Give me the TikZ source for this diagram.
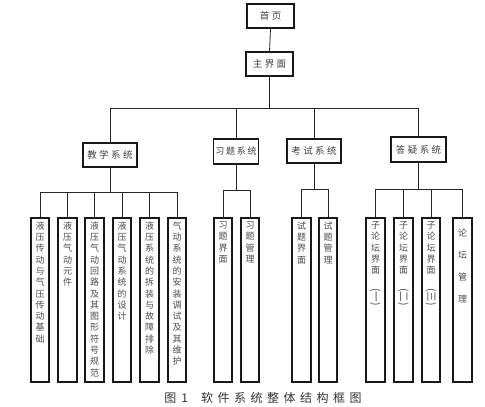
\documentclass[tikz,border=0pt]{standalone}
\usepackage{fontspec}
\usepackage{graphicx}
\newfontfamily\cjk{Noto Sans CJK SC}
\newlength\lsk
\setlength\lsk{2.5pt}
\def\ls#1{\lsfirst#1\relax}
\def\lsfirst#1{#1\lsrest}
\def\lsrest#1{\ifx#1\relax\else\kern\lsk #1\expandafter\lsrest\fi}
\newcommand\rp[1]{\rotatebox{-90}{\fontsize{10.5}{10.5}\selectfont(#1)}}
\tikzset{
  topbox/.style={draw=black!90, line width=1.1pt, inner sep=0pt,
    font=\cjk\fontsize{9.5}{11}\selectfont, text=black!75},
  leaf/.style={draw=black!90, line width=1.1pt, inner sep=0pt, minimum height=164pt},
  vtext/.style={anchor=north, align=center, inner sep=0pt, yshift=-4pt,
    font=\cjk\fontsize{9}{11.3}\selectfont, text=black!70},
  conn/.style={draw=black!85, line width=0.8pt},
}
\begin{document}
\begin{tikzpicture}[x=1pt,y=-1pt]
\path[use as bounding box, fill=white] (0,0) rectangle (485,407);

% top levels
\node[topbox, minimum width=47pt, minimum height=24pt] (sy) at (270.5,16) {\ls{首页}};
\node[topbox, minimum width=47pt, minimum height=24pt] (zjm) at (269.5,64) {\ls{主界面}};

\node[topbox, minimum width=54pt, minimum height=24pt] (jx) at (110,155) {\ls{教学系统}};
\node[topbox, minimum width=45pt, minimum height=25pt, font=\cjk\fontsize{9}{11}\selectfont] (xt) at (236,151.5) {\setlength\lsk{1.8pt}\ls{习题系统}};
\node[topbox, minimum width=54pt, minimum height=24pt] (ks) at (314,151) {\ls{考试系统}};
\node[topbox, minimum width=55pt, minimum height=25pt] (dy) at (418.5,149.5) {\ls{答疑系统}};

% leaves: teaching
\node[leaf, minimum width=18pt] (l1) at (40,300) {};
\node[leaf, minimum width=19pt] (l2) at (67.5,300) {};
\node[leaf, minimum width=19pt] (l3) at (94.5,300) {};
\node[leaf, minimum width=18pt] (l4) at (122,300) {};
\node[leaf, minimum width=19pt] (l5) at (149.5,300) {};
\node[leaf, minimum width=18pt] (l6) at (177,300) {};
\node[vtext] (t1) at (l1.north) {液\\压\\传\\动\\与\\气\\压\\传\\动\\基\\础};
\node[vtext] (t2) at (l2.north) {液\\压\\气\\动\\元\\件};
\node[vtext] (t3) at (l3.north) {液\\压\\气\\动\\回\\路\\及\\其\\图\\形\\符\\号\\规\\范};
\node[vtext] (t4) at (l4.north) {液\\压\\气\\动\\系\\统\\的\\设\\计};
\node[vtext] (t5) at (l5.north) {液\\压\\系\\统\\的\\拆\\装\\与\\故\\障\\排\\除};
\node[vtext] (t6) at (l6.north) {气\\动\\系\\统\\的\\安\\装\\调\\试\\及\\其\\维\\护};

% leaves: exercises
\node[leaf, minimum width=18pt] (x1) at (223,300) {};
\node[leaf, minimum width=18pt] (x2) at (250,300) {};
\node[vtext] (tx1) at (x1.north) {习\\题\\界\\面};
\node[vtext] (tx2) at (x2.north) {习\\题\\管\\理};

% leaves: exams
\node[leaf, minimum width=19pt] (s1) at (301.5,300) {};
\node[leaf, minimum width=18pt] (s2) at (328,300) {};
\node[vtext] (ts1) at (s1.north) {试\\题\\界\\面};
\node[vtext] (ts2) at (s2.north) {试\\题\\管\\理};

% leaves: Q&A
\node[leaf, minimum width=19pt] (d1) at (375.5,300) {};
\node[leaf, minimum width=19pt] (d2) at (403.5,300) {};
\node[leaf, minimum width=18pt] (d3) at (431,300) {};
\node[leaf, minimum width=19pt] (d4) at (462.5,300) {};
\node[vtext] (td1) at (d1.north) {子\\论\\坛\\界\\面\\[3pt]\rp{一}};
\node[vtext] (td2) at (d2.north) {子\\论\\坛\\界\\面\\[3pt]\rp{二}};
\node[vtext] (td3) at (d3.north) {子\\论\\坛\\界\\面\\[3pt]\rp{三}};
\node[vtext, font=\cjk\fontsize{9}{22}\selectfont, yshift=-7pt] (td4) at (d4.north) {论\\坛\\管\\理};

% connectors
\draw[conn] (sy.south) -- (zjm.north);
\coordinate (b0) at (0,108);
\foreach \c in {jx,xt,ks,dy} \draw[conn] (zjm.south) -- (zjm.south |- b0) -| (\c.north);
\coordinate (b1) at (0,192);
\foreach \c in {l1,l2,l3,l4,l5,l6} \draw[conn] (jx.south) -- (jx.south |- b1) -| (\c.north);
\coordinate (b2) at (0,190);
\foreach \c in {x1,x2} \draw[conn] (xt.south) -- (xt.south |- b2) -| (\c.north);
\coordinate (b3) at (0,189);
\foreach \c in {s1,s2} \draw[conn] (ks.south) -- (ks.south |- b3) -| (\c.north);
\coordinate (b4) at (0,189);
\foreach \c in {d1,d2,d3,d4} \draw[conn] (dy.south) -- (dy.south |- b4) -| (\c.north);

% caption
\node[inner sep=0pt, font=\cjk\fontsize{12}{14}\selectfont, text=black!80] (cap) at (263,398)
  {图\kern5pt 1\kern13pt 软\kern4.5pt 件\kern4.5pt 系\kern4.5pt 统\kern4.5pt 整\kern4.5pt 体\kern4.5pt 结\kern4.5pt 构\kern4.5pt 框\kern4.5pt 图};
\end{tikzpicture}
\end{document}
